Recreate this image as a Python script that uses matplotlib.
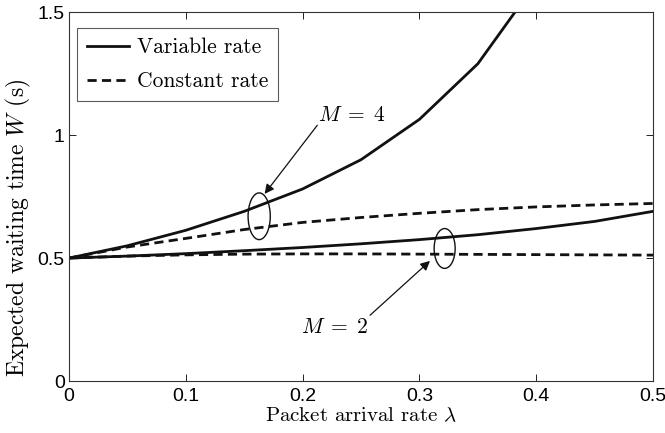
import matplotlib
matplotlib.use("Agg")
import matplotlib.pyplot as plt
from matplotlib.patches import Ellipse

plt.rcParams['mathtext.fontset'] = 'cm'
plt.rcParams['font.family'] = ['Liberation Sans', 'DejaVu Sans']

lam = [0.0, 0.05, 0.1, 0.15, 0.2, 0.25, 0.3, 0.35, 0.4, 0.45, 0.5]
var_m4 = [0.5, 0.55, 0.613, 0.69, 0.781, 0.90, 1.064, 1.29, 1.62, 2.1, 2.8]
const_m4 = [0.5, 0.545, 0.58, 0.616, 0.645, 0.665, 0.682, 0.697, 0.708, 0.716, 0.722]
var_m2 = [0.5, 0.508, 0.518, 0.53, 0.543, 0.558, 0.575, 0.595, 0.62, 0.649, 0.69]
const_m2 = [0.5, 0.508, 0.513, 0.516, 0.517, 0.517, 0.516, 0.515, 0.514, 0.513, 0.512]

xticks = [0, 0.1, 0.2, 0.3, 0.4, 0.5]
xticklabels = ['0', '0.1', '0.2', '0.3', '0.4', '0.5']
yticks = [0, 0.5, 1.0, 1.5]
yticklabels = ['0', '0.5', '1', '1.5']

serif = ['cmr10', 'DejaVu Serif']

fig = plt.figure(figsize=(6.65, 4.33), dpi=100)
ax = fig.add_axes([0.1038, 0.12, 0.8782, 0.852])

lw = 2.0
dash = (0, (3.3, 1.9))
ax.plot(lam, var_m4, color='#111111', lw=lw, label='Variable rate')
ax.plot(lam, const_m4, color='#111111', lw=lw, ls=dash, label='Constant rate')
ax.plot(lam, var_m2, color='#111111', lw=lw)
ax.plot(lam, const_m2, color='#111111', lw=lw, ls=dash)

ax.set_xlim(0, 0.5)
ax.set_ylim(0, 1.5)
ax.set_xticks(xticks)
ax.set_xticklabels(xticklabels)
ax.set_yticks(yticks)
ax.set_yticklabels(yticklabels)
ax.tick_params(direction='in', top=True, right=True, labelsize=14, length=5, width=0.6)
ax.tick_params(axis='x', pad=5)
ax.tick_params(axis='y', pad=3)
for s in ax.spines.values():
    s.set_linewidth(0.8)
    s.set_color('#333333')

ax.set_xlabel(r'Packet arrival rate $\lambda$', fontsize=15, labelpad=1, family=serif)
ax.set_ylabel(r'Expected waiting time $W$ (s)', fontsize=17, family=serif)
ax.yaxis.set_label_coords(-0.062, 0.416)

leg = ax.legend(loc='upper left', frameon=True, fancybox=False,
                edgecolor='#333333', handlelength=1.95, handletextpad=0.37,
                borderpad=0.45, labelspacing=0.67, bbox_to_anchor=(0.0137, 0.9566),
                borderaxespad=0.0, prop={'family': serif, 'size': 15.5})
leg.get_frame().set_linewidth(0.8)

ax.add_patch(Ellipse((0.1628, 0.67), 0.019, 0.19, fill=False, lw=1.0, color='#111111'))
ax.add_patch(Ellipse((0.3216, 0.539), 0.018, 0.162, fill=False, lw=1.0, color='#111111'))

ax.annotate('', xy=(0.166, 0.752), xytext=(0.214, 1.049),
            arrowprops=dict(arrowstyle='-|>', color='#111111', lw=0.9, mutation_scale=14))
ax.text(0.213, 1.081, r'$M\;=\;4$', fontsize=15.5, ha='left', va='center')
ax.annotate('', xy=(0.3108, 0.496), xytext=(0.256, 0.26),
            arrowprops=dict(arrowstyle='-|>', color='#111111', lw=0.9, mutation_scale=14))
ax.text(0.2277, 0.2195, r'$M\;=\;2$', fontsize=15.5, ha='center', va='center')

fig.savefig('out.png', dpi=100)
